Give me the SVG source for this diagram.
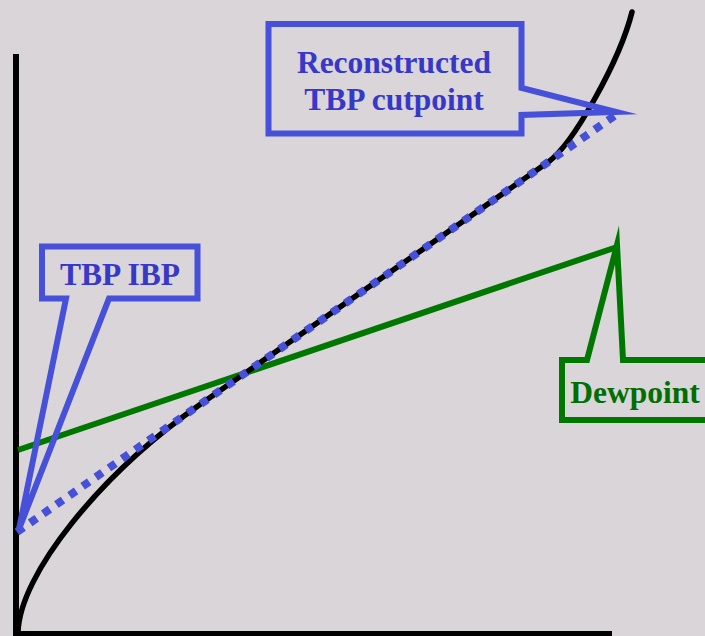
<svg xmlns="http://www.w3.org/2000/svg" width="705" height="636" viewBox="0 0 705 636">
  <style>
    .axis { stroke: #000; stroke-width: 6; fill: none; }
    .tbp { stroke: #000; stroke-width: 5.5; fill: none; stroke-linecap: round; stroke-linejoin: round; }
    .recon { stroke: #4650D8; stroke-width: 8; fill: none; stroke-dasharray: 8 8; }
    .dew { stroke: #007800; stroke-width: 6; fill: none; }
    .callout-blue { stroke: #4650D8; stroke-width: 6; fill: none; stroke-linejoin: miter; stroke-miterlimit: 20; }
    .callout-green { stroke: #007800; stroke-width: 6; fill: none; stroke-linejoin: miter; stroke-miterlimit: 20; }
    .bevel-tip { stroke-miterlimit: 4; }
    .label { font-family: "Liberation Serif", "Times New Roman", serif; font-weight: bold; font-size: 31.5px; text-anchor: middle; }
    .label-blue { fill: #3838C8; }
    .label-green { fill: #006E00; }
  </style>

  <rect x="0" y="0" width="705" height="636" fill="#D9D5D9"/>

  <!-- axes -->
  <g id="axes">
    <line class="axis" x1="16" y1="54" x2="16" y2="637"/>
    <line class="axis" x1="13" y1="634" x2="612" y2="634"/>
  </g>

  <!-- curves -->
  <g id="connectors">
    <path id="dewpoint-line" class="dew" d="M18,450 L617,247"/>
    <path id="tbp-curve" class="tbp" d="M18,633 C19,575 100,474.2 200,404.5 L548,162.15 C573,144.7 620,60 632,12"/>
    <path id="reconstructed-line" class="recon" d="M17,532 L620,112"/>
  </g>

  <!-- callouts -->
  <g id="reconstructed-callout">
    <path class="callout-blue" d="M268.5,24 H521.5 V88 L616,112 L521.5,115 V133.5 H268.5 Z"/>
    <text class="label label-blue" x="394" y="73">Reconstructed</text>
    <text class="label label-blue" x="394" y="110">TBP cutpoint</text>
  </g>

  <g id="ibp-callout">
    <path class="callout-blue bevel-tip" d="M42,246.5 H197.5 V298.5 H109 L19,529 L66,298.5 H42 Z"/>
    <text class="label label-blue" x="120" y="285">TBP IBP</text>
  </g>

  <g id="dewpoint-callout">
    <path class="callout-green" d="M562,360 H587 L617,245 L623,360 H712 V420 H562 Z"/>
    <text class="label label-green" x="635" y="403">Dewpoint</text>
  </g>
</svg>
